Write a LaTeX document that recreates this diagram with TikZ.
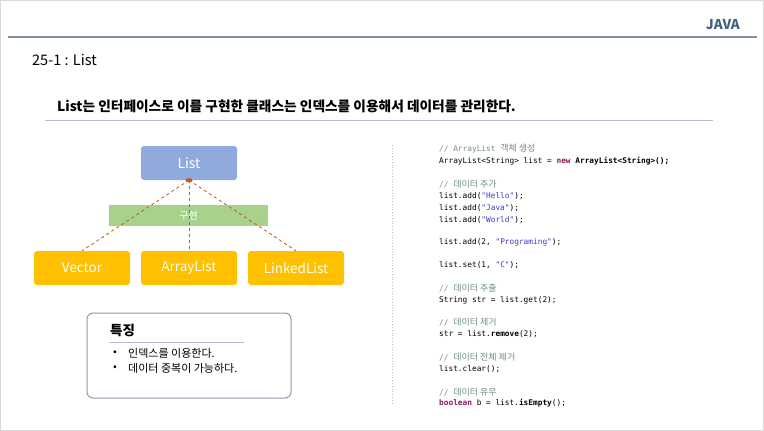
\documentclass[tikz,border=0pt]{standalone}
\usepackage{fontspec}
\setmainfont{Noto Sans CJK KR}
\setmonofont{DejaVu Sans Mono}
\newfontfamily\kr{Noto Sans CJK KR}

\definecolor{framegray}{HTML}{D9D9D9}
\definecolor{javablue}{HTML}{44607F}
\definecolor{ruleblue}{HTML}{7F8FA6}
\definecolor{lightrule}{HTML}{B4C0D0}
\definecolor{listblue}{HTML}{8FAADC}
\definecolor{implgreen}{HTML}{A9D18E}
\definecolor{subgold}{HTML}{FFC000}
\definecolor{connbrown}{HTML}{C55A11}
\definecolor{featborder}{HTML}{8C9BB0}
\definecolor{cmtgray}{HTML}{6F8F8A}
\definecolor{strblue}{HTML}{3A3AD0}
\definecolor{kwmaroon}{HTML}{8B1A5A}

\tikzset{
  classbox/.style={rounded corners=3pt, minimum width=96pt, minimum height=34pt,
    inner sep=0pt, text=white, font=\fontsize{13.5}{15}\selectfont},
  ifacebox/.style={classbox, fill=listblue, font=\fontsize{14}{16}\selectfont},
  implbox/.style={classbox, fill=subgold},
  implbar/.style={fill=implgreen, minimum width=159pt, minimum height=21pt,
    inner sep=0pt, text=white, font=\fontsize{10}{12}\selectfont},
  realizes/.style={draw=connbrown, dashed, line width=0.8pt},
  codeline/.style={anchor=west, inner sep=0pt, font=\ttfamily\fontsize{7.8}{9}\selectfont},
  featline/.style={anchor=west, inner sep=0pt, font=\fontsize{11}{13}\selectfont}
}
\newcommand{\cmt}[1]{\textcolor{cmtgray}{#1}}
\newcommand{\str}[1]{\textcolor{strblue}{#1}}
\newcommand{\kw}[1]{\textcolor{kwmaroon}{\bfseries #1}}
\newcommand{\krc}[1]{{\kr\fontsize{9}{10}\selectfont #1}}

\begin{document}
\begin{tikzpicture}[x=1pt, y=-1pt]
  \useasboundingbox (0,0) rectangle (764,431);
  \fill[white] (0,0) rectangle (764,431);
  \draw[framegray, line width=2pt] (0,0) rectangle (764,431);

  % header
  \node (java) [anchor=east, inner sep=0pt, text=javablue,
    font=\bfseries\fontsize{13.5}{15}\selectfont] at (740,25) {JAVA};
  \coordinate (hruleL) at (8,37);
  \coordinate (hruleR) at (757,37);
  \draw[ruleblue, line width=2pt] (hruleL) -- (hruleR);
  \node (section) [anchor=west, inner sep=0pt, font=\fontsize{14.5}{16}\selectfont]
    at (32,60) {25-1 : List};

  % heading
  \node (heading) [anchor=west, inner sep=0pt, font=\bfseries\fontsize{13.7}{16}\selectfont]
    at (57,106) {List는 인터페이스로 이를 구현한 클래스는 인덱스를 이용해서 데이터를 관리한다.};
  \coordinate (sruleL) at (45,120);
  \coordinate (sruleR) at (713,120);
  \draw[lightrule, line width=1pt] (sruleL) -- (sruleR);

  % class diagram
  \node (list) [ifacebox] at (189,163) {List};
  \node (vector) [implbox] at (82,268) {Vector};
  \node (arraylist) [implbox] at (189,268) {ArrayList};
  \node (linkedlist) [implbox] at (296,268) {LinkedList};
  \node (impl) [implbar] at (188.5,215.5) {구현};
  \draw[realizes] (list.south) -- (vector.north);
  \draw[realizes] (list.south) -- (arraylist.north);
  \draw[realizes] (list.south) -- (linkedlist.north);
  \fill[connbrown] (list.south) ellipse (3.5pt and 2pt);

  % features panel
  \node (featbox) [draw=featborder, line width=1pt, rounded corners=6pt,
    minimum width=204pt, minimum height=85pt, inner sep=0pt] at (189,355.5) {};
  \node (feattitle) [anchor=west, inner sep=0pt, font=\bfseries\fontsize{13.5}{15}\selectfont]
    at (110,330) {특징};
  \coordinate (fruleL) at (109,342);
  \coordinate (fruleR) at (244,342);
  \draw[lightrule, line width=0.8pt] (fruleL) -- (fruleR);
  \node (b1) [featline] at (113,353) {•};
  \node (f1) [featline] at (128,353) {인덱스를 이용한다.};
  \node (b2) [featline] at (113,368) {•};
  \node (f2) [featline] at (128,368) {데이터 중복이 가능하다.};

  % separator
  \coordinate (sepT) at (392,145);
  \coordinate (sepB) at (392,405);
  \draw[gray!50, line width=0.8pt, dotted] (sepT) -- (sepB);

  % code listing
  \node (c1)  [codeline] at (439,149) {\cmt{// ArrayList \krc{객체 생성}}};
  \node (c2)  [codeline] at (439,161) {ArrayList<String> list = \kw{new} \textbf{ArrayList<String>();}};
  \node (c3)  [codeline] at (439,184) {\cmt{// \krc{데이터 추가}}};
  \node (c4)  [codeline] at (439,196) {list.add(\str{"Hello"});};
  \node (c5)  [codeline] at (439,208) {list.add(\str{"Java"});};
  \node (c6)  [codeline] at (439,220) {list.add(\str{"World"});};
  \node (c7)  [codeline] at (439,242) {list.add(2, \str{"Programing"});};
  \node (c8)  [codeline] at (439,265) {list.set(1, \str{"C"});};
  \node (c9)  [codeline] at (439,288) {\cmt{// \krc{데이터 추출}}};
  \node (c10) [codeline] at (439,300) {String str = list.get(2);};
  \node (c11) [codeline] at (439,322) {\cmt{// \krc{데이터 제거}}};
  \node (c12) [codeline] at (439,334) {str = list.\textbf{remove}(2);};
  \node (c13) [codeline] at (439,357) {\cmt{// \krc{데이터 전체 제거}}};
  \node (c14) [codeline] at (439,369) {list.clear();};
  \node (c15) [codeline] at (439,392) {\cmt{// \krc{데이터 유무}}};
  \node (c16) [codeline] at (439,403) {\kw{boolean} b = list.\textbf{isEmpty}();};
\end{tikzpicture}
\end{document}
